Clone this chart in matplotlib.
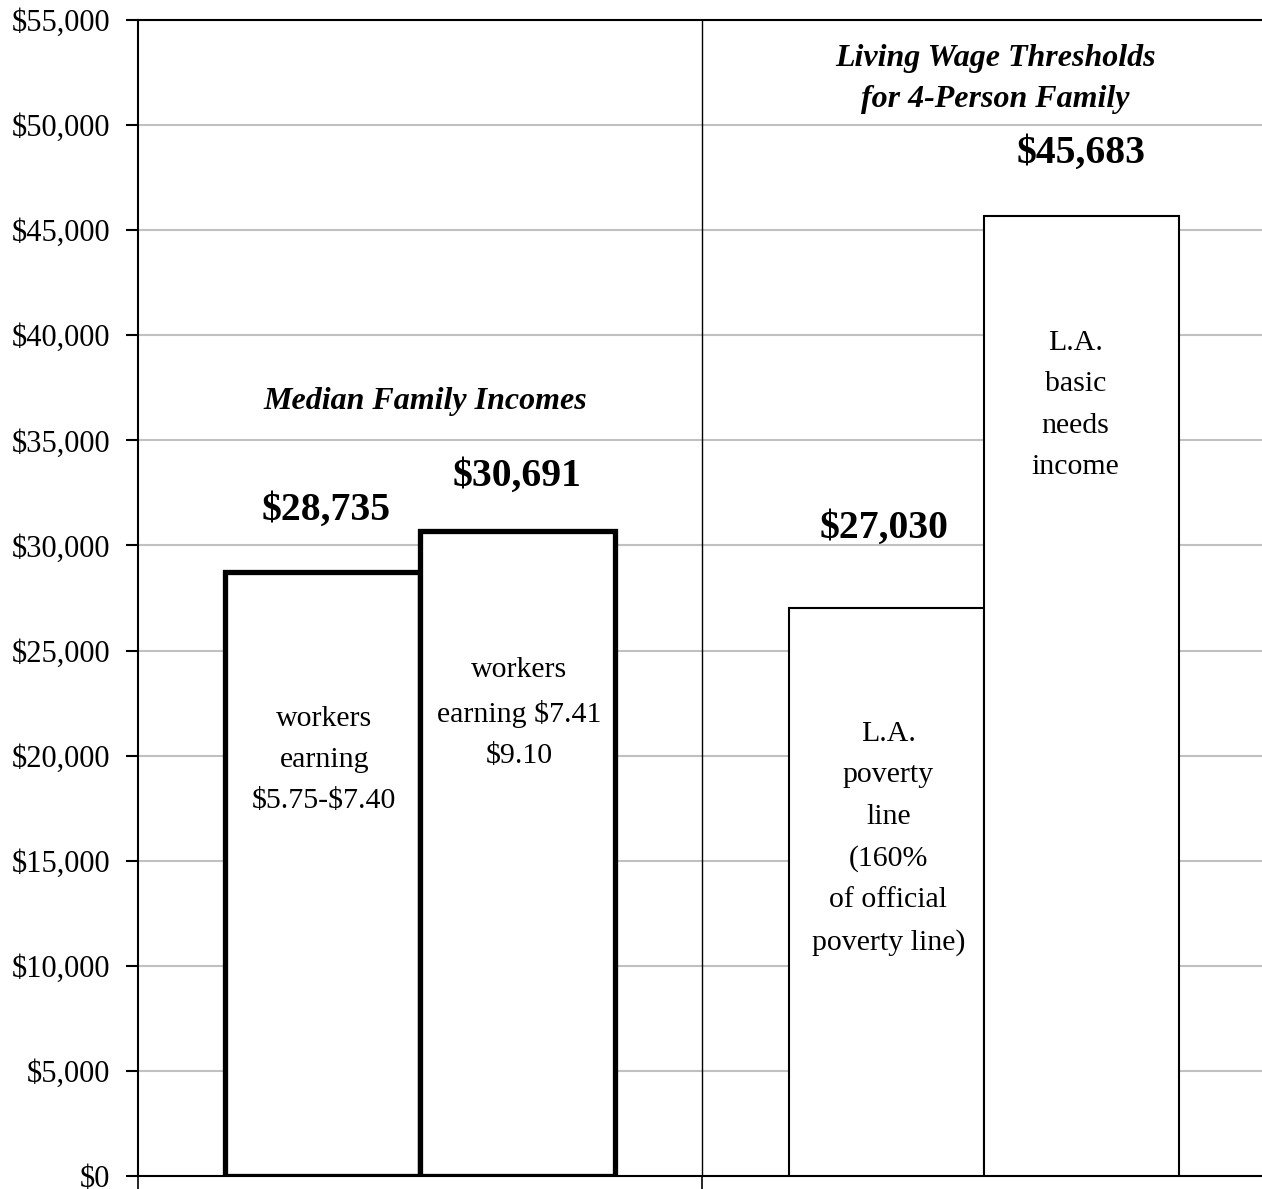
import matplotlib
matplotlib.use("Agg")
import matplotlib.pyplot as plt
from matplotlib.ticker import FuncFormatter

# ---- data ----
groups = ["Median Family Incomes", "Living Wage Thresholds\nfor 4-Person Family"]
bar_values = [28735, 30691, 27030, 45683]
bar_texts = ["workers\nearning\n$5.75-$7.40",
             "workers\nearning $7.41\n$9.10",
             "L.A.\npoverty\nline\n(160%\nof official\npoverty line)",
             "L.A.\nbasic\nneeds\nincome"]
value_labels = ["$28,735", "$30,691", "$27,030", "$45,683"]
bar_group = [0, 0, 1, 1]
bar_side = [-1, 1, -1, 1]
thick = [True, True, False, False]
yticks = list(range(0, 55001, 5000))

plt.rcParams['font.family'] = ['Liberation Serif', 'DejaVu Serif']
plt.rcParams['text.parse_math'] = False

W, H = 1262, 1189
fig = plt.figure(figsize=(W / 100, H / 100), dpi=100)
ax = fig.add_axes([138 / W, 1 - 1176 / H, 1128 / W, (1176 - 20) / H])

bw = 0.345
for v, g, s, t in zip(bar_values, bar_group, bar_side, thick):
    x = g + s * bw / 2
    ax.bar(x, v, width=bw, facecolor="white", edgecolor="black",
           linewidth=3.8 if t else 1.5, zorder=3)

ax.set_xlim(-0.5, 1.5)
ax.set_ylim(0, 55000)
ax.set_yticks(yticks)
ax.yaxis.set_major_formatter(FuncFormatter(lambda v, p: f"${int(v):,}"))
ax.tick_params(axis="y", direction="out", length=9, width=1.5, labelsize=22, pad=11)
ax.set_xticks([-0.5, 0.5, 1.5])
ax.set_xticklabels([])
ax.tick_params(axis="x", direction="out", length=12, width=1.2)
ax.grid(axis="y", color="#c0c0c0", linewidth=1.5, zorder=0)
ax.set_axisbelow(True)
for sp in ["left", "bottom", "top"]:
    ax.spines[sp].set_linewidth(1.5)
ax.spines["right"].set_visible(False)
ax.axvline(0.5, color="black", linewidth=1.0, zorder=2)

# value labels (positions in data coords)
label_y = [31684, 33301, 30828, 48668]
label_dx = [0.006, 0.0, -0.005, 0.0]
for v, g, s, lab, ly, dx in zip(bar_values, bar_group, bar_side, value_labels, label_y, label_dx):
    x = g + s * bw / 2 + dx
    ax.text(x, ly, lab, ha="center", va="center", fontsize=28.5, fontweight="bold", zorder=5)

# bar inner texts
text_y = [19791, 22027, 16056, 36680]
text_dx = [0.003, 0.003, 0.003, -0.01]
for g, s, t, ty, dx in zip(bar_group, bar_side, bar_texts, text_y, text_dx):
    x = g + s * bw / 2 + dx
    ax.text(x, ty, t, ha="center", va="center", fontsize=21.5, linespacing=1.76, zorder=5)

# group titles
ax.text(0.01, 36860, groups[0], ha="center", va="center", fontsize=23,
        fontweight="bold", fontstyle="italic", zorder=5)
ax.text(1.02, 52200, groups[1], ha="center", va="center", fontsize=23,
        fontweight="bold", fontstyle="italic", linespacing=1.55, zorder=5)

fig.savefig("out.png", dpi=100)
